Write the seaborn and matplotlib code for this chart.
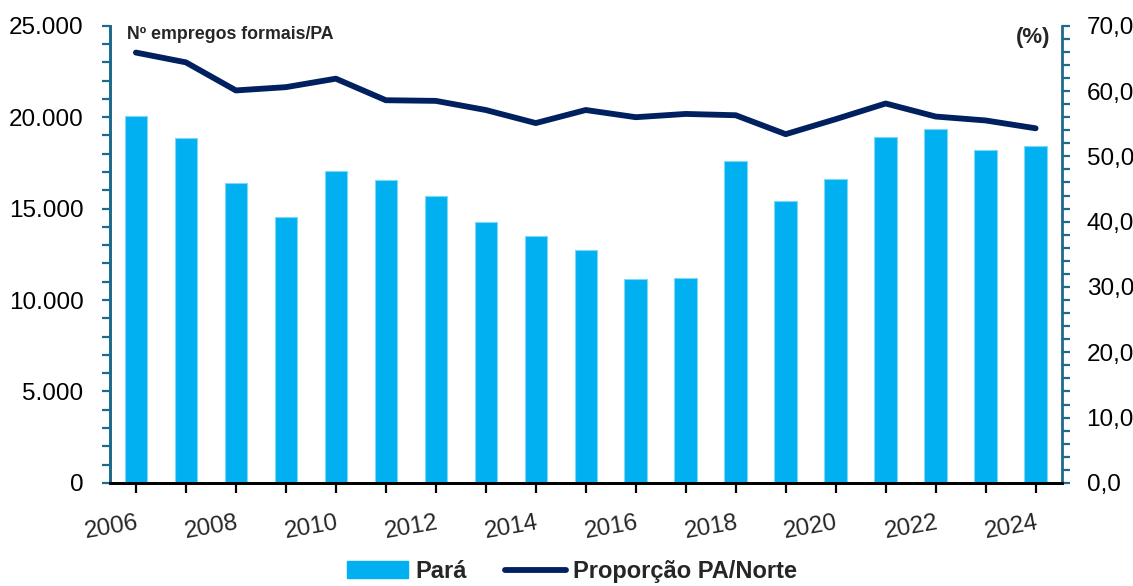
import numpy as np
import pandas as pd
import matplotlib
matplotlib.use("Agg")
import matplotlib.pyplot as plt
import matplotlib.ticker as mticker
from matplotlib.patches import Patch
from matplotlib.lines import Line2D
import seaborn as sns

# dados
anos = list(range(2006, 2025))
empregos_pa = [20050, 18850, 16400, 14530, 17080, 16570, 15710, 14280, 13500,
               12730, 11150, 11200, 17610, 15410, 16630, 18900, 19340, 18200, 18430]
proporcao_norte = [65.9, 64.4, 60.1, 60.6, 61.9, 58.6, 58.5, 57.1, 55.1,
                   57.1, 56.0, 56.5, 56.3, 53.4, 55.7, 58.1, 56.1, 55.5, 54.3]

df = pd.DataFrame({"ano": [str(a) for a in anos], "empregos": empregos_pa,
                   "proporcao": proporcao_norte})

sns.set_theme(style="white")
plt.rcParams["font.family"] = ["Liberation Sans", "DejaVu Sans"]

azul_barra = "#00B0F0"
azul_linha = "#002060"
cor_eixo = "#1F6A8C"

fig = plt.figure(figsize=(11.33, 5.86), dpi=100)
ax1 = fig.add_axes([0.097, 0.176, 0.840, 0.780])
ax2 = ax1.twinx()

sns.barplot(data=df, x="ano", y="empregos", ax=ax1, color=azul_barra,
            width=0.45, edgecolor="#7FD6F5", linewidth=0.8, saturation=1)
sns.lineplot(x=np.arange(len(anos)), y=df["proporcao"], ax=ax2,
             color=azul_linha, linewidth=4.2)

ax1.set_xlim(-0.52, len(anos) - 0.48)
ax1.set_ylim(0, 25000)
ax2.set_ylim(0, 70)

# eixo esquerdo
ax1.yaxis.set_major_locator(mticker.MultipleLocator(5000))
ax1.yaxis.set_minor_locator(mticker.MultipleLocator(1000))
ax1.yaxis.set_major_formatter(mticker.FuncFormatter(lambda v, p: f"{v:,.0f}".replace(",", ".")))
ax1.tick_params(axis="y", which="both", direction="out", length=6, width=1.6,
                color=cor_eixo, left=True, labelsize=17.5, pad=13, labelcolor="black")

# eixo direito
ax2.yaxis.set_major_locator(mticker.MultipleLocator(10))
ax2.yaxis.set_minor_locator(mticker.MultipleLocator(2))
ax2.yaxis.set_major_formatter(mticker.FuncFormatter(lambda v, p: f"{v:.1f}".replace(".", ",")))
ax2.tick_params(axis="y", which="both", direction="out", length=6, width=1.6,
                color=cor_eixo, right=True, labelsize=17.5, pad=12, labelcolor="black")

# eixo x
ax1.set_xticks(range(len(anos)))
ax1.set_xticklabels([str(a) if a % 2 == 0 else "" for a in anos],
                    rotation=10, ha="right", rotation_mode="anchor")
ax1.tick_params(axis="x", direction="out", length=7, width=1.6, color="black",
                bottom=True, labelsize=17.5, pad=14)
ax1.set_xlabel("")
ax1.set_ylabel("")
ax2.set_ylabel("")

for ax in (ax1, ax2):
    ax.spines["top"].set_visible(False)
    ax.spines["bottom"].set_color("black")
    ax.spines["bottom"].set_linewidth(2)
    ax.spines["left"].set_color(cor_eixo)
    ax.spines["left"].set_linewidth(2)
    ax.spines["right"].set_color(cor_eixo)
    ax.spines["right"].set_linewidth(2)
ax1.spines["right"].set_visible(False)

ax1.text(0.018, 1.0, "Nº empregos formais/PA", transform=ax1.transAxes,
         fontsize=12.8, fontweight="bold", va="top", ha="left")
ax2.text(0.988, 0.998, "(%)", transform=ax2.transAxes,
         fontsize=16, fontweight="bold", va="top", ha="right")

handles = [Patch(color=azul_barra), Line2D([0], [0], color=azul_linha, linewidth=4.2)]
fig.legend(handles, ["Pará", "Proporção PA/Norte"], loc="center",
           bbox_to_anchor=(0.505, 0.025), ncol=2, frameon=False,
           prop={"size": 17, "weight": "bold"}, handlelength=2.6,
           handletextpad=0.3, columnspacing=1.6)

fig.savefig("out.png", dpi=100)
